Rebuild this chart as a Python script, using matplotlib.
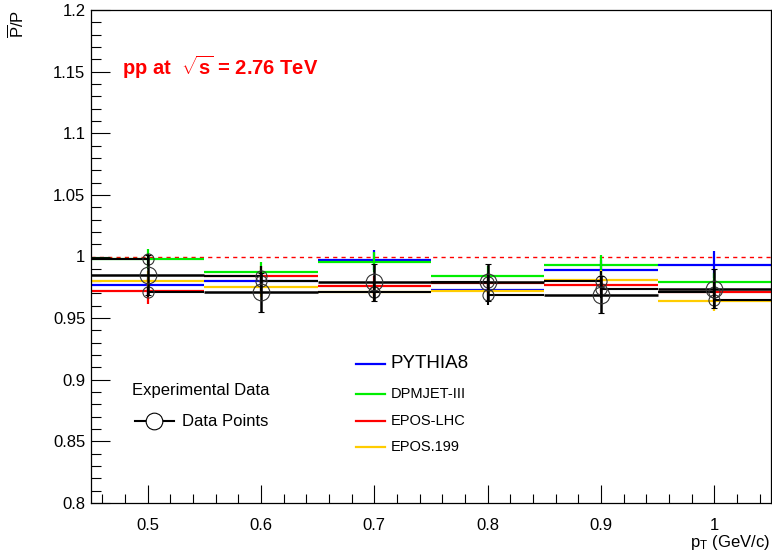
import matplotlib
matplotlib.use("Agg")
import matplotlib.pyplot as plt
import numpy as np
from matplotlib.ticker import MultipleLocator, FuncFormatter

plt.rcParams['font.family'] = ['Liberation Sans', 'DejaVu Sans']
plt.rcParams['mathtext.fontset'] = 'custom'
plt.rcParams['mathtext.rm'] = 'Liberation Sans'
plt.rcParams['mathtext.it'] = 'Liberation Sans'
plt.rcParams['mathtext.bf'] = 'Liberation Sans:bold'

# ---------------- data ----------------
pt = [0.5, 0.6, 0.7, 0.8, 0.9, 1.0]
bin_half = 0.05

pythia8 = [0.977, 0.980, 0.997, 0.973, 0.989, 0.9935]
pythia8_err = [0.008, 0.008, 0.008, 0.008, 0.008, 0.011]
dpmjet = [0.998, 0.9875, 0.9955, 0.984, 0.993, 0.979]
dpmjet_err = [0.008, 0.008, 0.008, 0.008, 0.008, 0.008]
epos_lhc = [0.9717, 0.984, 0.976, 0.9785, 0.977, 0.971]
epos_lhc_err = [0.010, 0.008, 0.008, 0.008, 0.008, 0.008]
epos199 = [0.980, 0.975, 0.971, 0.9717, 0.981, 0.964]
epos199_err = [0.008, 0.008, 0.008, 0.008, 0.008, 0.008]

data_main = [0.985, 0.971, 0.979, 0.979, 0.969, 0.974]
data_main_err = [0.016, 0.016, 0.015, 0.015, 0.015, 0.016]
data_left = [0.998, 0.984, 0.971, 0.979, 0.980, 0.971]
data_left_err = [0.004, 0.008, 0.008, 0.008, 0.008, 0.008]
data_right = [0.971, 0.980, 0.971, 0.969, 0.974, 0.965]
data_right_err = [0.004, 0.008, 0.008, 0.008, 0.008, 0.008]

models = [
    ("PYTHIA8", pythia8, pythia8_err, "#0000ff"),
    ("DPMJET-III", dpmjet, dpmjet_err, "#00ee00"),
    ("EPOS-LHC", epos_lhc, epos_lhc_err, "#ff0000"),
    ("EPOS.199", epos199, epos199_err, "#ffcc00"),
]

yticks_major = 0.05
xticks_major = 0.1

# ---------------- figure ----------------
W, H = 772, 556
fig = plt.figure(figsize=(W / 100, H / 100), dpi=100)
ax = fig.add_axes([91 / W, 1 - 503 / H, 680 / W, 493 / H])

x = np.array(pt)
lo = x - bin_half
hi = x + bin_half

# model histograms
for name, vals, errs, col in models:
    ax.hlines(vals, lo, hi, colors=col, lw=1.6, zorder=2)
for name, vals, errs, col in models:
    ax.errorbar(x, vals, yerr=errs, fmt='none', ecolor=col, elinewidth=1.6,
                capsize=0, zorder=3)

# reference line at unity
ax.axhline(1.0, color='#ff0000', lw=1.0, ls=(0, (3, 3)), zorder=1)

# data
ax.hlines(data_main, lo, hi, colors='black', lw=1.8, zorder=4)
ax.errorbar(x, data_left, yerr=data_left_err,
            xerr=[np.full(len(pt), bin_half), np.zeros(len(pt))],
            fmt='o', ms=8, mfc='none', mec='#333333', mew=0.8,
            ecolor='black', elinewidth=1.5, capsize=0, zorder=5)
ax.errorbar(x, data_right, yerr=data_right_err,
            xerr=[np.zeros(len(pt)), np.full(len(pt), bin_half)],
            fmt='o', ms=8, mfc='none', mec='#333333', mew=0.8,
            ecolor='black', elinewidth=1.5, capsize=0, zorder=5)
ax.errorbar(x, data_main, yerr=data_main_err, fmt='o', ms=12, mfc='none',
            mec='#333333', mew=0.8, ecolor='black', elinewidth=1.8,
            capsize=2, capthick=1.8, zorder=6)

ax.set_xlim(0.45, 1.05)
ax.set_ylim(0.8, 1.2)

ax.xaxis.set_major_locator(MultipleLocator(xticks_major))
ax.xaxis.set_minor_locator(MultipleLocator(0.02))
ax.yaxis.set_major_locator(MultipleLocator(yticks_major))
ax.yaxis.set_minor_locator(MultipleLocator(0.01))
fmt = FuncFormatter(lambda v, p: ('%g' % round(v, 4)))
ax.xaxis.set_major_formatter(fmt)
ax.yaxis.set_major_formatter(fmt)
ax.tick_params(axis='both', which='both', direction='in', top=False, right=False,
               labelsize=12, width=0.8)
ax.tick_params(axis='x', which='major', length=13, pad=11)
ax.tick_params(axis='x', which='minor', length=6.5)
ax.tick_params(axis='y', which='major', length=14, pad=4)
ax.tick_params(axis='y', which='minor', length=7)
for s in ax.spines.values():
    s.set_linewidth(0.9)

def fx(px):
    return px / W

def fy(py):
    return 1 - py / H

# axis titles
fig.text(fx(17), fy(10), r'$\overline{\mathrm{P}}$/P', rotation=90, ha='center',
         va='top', fontsize=12)
fig.text(fx(770), fy(543), r'p$_{\mathrm{T}}$ (GeV/c)', ha='right', va='center',
         fontsize=12)

# energy label
fig.text(fx(122), fy(67), r'pp at  $\sqrt{\mathbf{s}}$ = 2.76 TeV', color='#ff0000',
         fontweight='bold', fontsize=14.5, ha='left', va='center')

# legend: experimental data
fig.text(fx(132), fy(390), 'Experimental Data', fontsize=12, ha='left', va='center')
ly = fy(421)
fig.add_artist(plt.Line2D([fx(135), fx(174)], [ly, ly], color='black', lw=1.5))
fig.add_artist(plt.Line2D([fx(154)], [ly], marker='o', ms=12, mfc='white',
                          mec='black', mew=0.8, lw=0))
fig.text(fx(182), ly, 'Data Points', fontsize=12, ha='left', va='center')

# legend: models
leg_y = [364, 394, 421, 447]
leg_fs = [13.5, 10.5, 10.5, 10.5]
for (name, vals, errs, col), yy, fs in zip(models, leg_y, leg_fs):
    fig.add_artist(plt.Line2D([fx(356), fx(385)], [fy(yy), fy(yy)], color=col, lw=1.6))
    fig.text(fx(391), fy(yy), name, fontsize=fs, ha='left', va='center')

fig.savefig('out.png', dpi=100)
